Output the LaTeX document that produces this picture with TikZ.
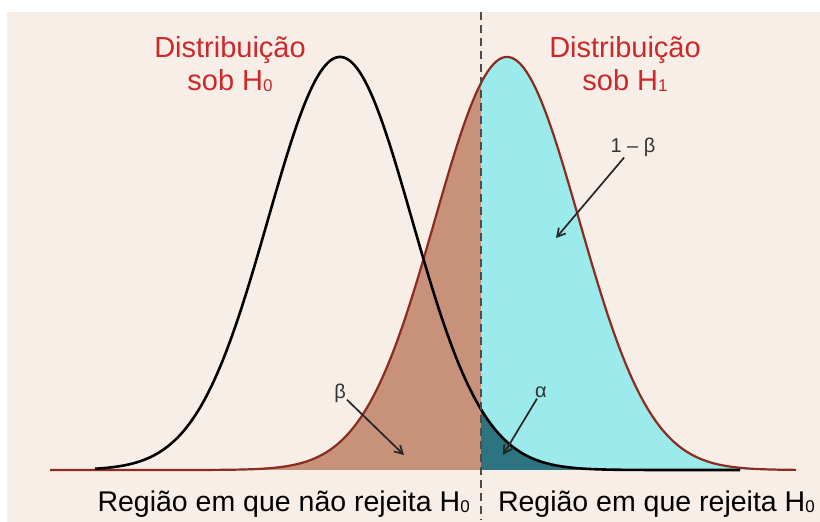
\documentclass[tikz,border=0pt]{standalone}
\usepackage{fontspec}
\setmainfont{Liberation Sans}
\usetikzlibrary{positioning, arrows.meta}
\definecolor{bg}{RGB}{248,238,232}
\definecolor{redtext}{RGB}{205,40,42}
\definecolor{hone}{RGB}{140,43,31}
\definecolor{betafill}{RGB}{200,146,122}
\definecolor{powerfill}{RGB}{155,234,236}
\definecolor{alphafill}{RGB}{46,116,128}
\tikzstyle{title}=[text=redtext, align=center, font=\fontsize{29}{33}\selectfont]
\tikzstyle{region}=[text=black, font=\fontsize{28.5}{33}\selectfont, inner sep=0pt]
\tikzstyle{greek}=[text=black!80, font=\fontsize{20}{22}\selectfont, inner sep=1pt]
\tikzstyle{pointer}=[-{Straight Barb[length=8pt,width=9pt]}, line width=1.7pt, black!85]
\newcommand{\hsub}[1]{\raisebox{-1pt}{\fontsize{17}{17}\selectfont #1}}

\begin{document}
\begin{tikzpicture}[x=1pt, y=1pt,
    declare function={hnull(\t)=52+413*exp(-((\t-340)/72)^2/2);
                      hone(\t)=52+413*exp(-((\t-507)/72)^2/2);}]
    \useasboundingbox (0,0) rectangle (820,522);
    \fill[bg] (7,0) rectangle (820,510);
    %areas beta, 1-beta and alpha
    \fill[betafill] (50,52) -- plot[domain=50:481, samples=150] (\x,{hone(\x)}) -- (481,52) -- cycle;
    \fill[powerfill] (481,52) -- plot[domain=481:796, samples=150] (\x,{hone(\x)}) -- (796,52) -- cycle;
    \fill[alphafill] (481,52) -- plot[domain=481:740, samples=120] (\x,{hnull(\x)}) -- (740,52) -- cycle;
    %the two densities
    \draw[hone, line width=2.2pt] plot[domain=50:796, samples=250] (\x,{hone(\x)});
    \draw[black, line width=2.6pt] plot[domain=95:740, samples=250] (\x,{hnull(\x)});
    %critical value
    \coordinate (crittop) at (481,510);
    \coordinate (critbot) at (481,2);
    \draw[black!70, line width=2.6pt, dash pattern=on 8pt off 5pt] (crittop) -- (critbot);

    \node[title] (distnull) at (230,458) {Distribuição\\sob H\hsub{0}};
    \node[title] (distone) at (625,458) {Distribuição\\sob H\hsub{1}};
    \node[region, anchor=east] (accept) at (470,18) {Região em que não rejeita H\hsub{0}};
    \node[region, anchor=east] (reject) at (815,18) {Região em que rejeita H\hsub{0}};

    \node[greek] (beta) at (340,129) {β};
    \node[greek] (alpha) at (541,130) {α};
    \node[greek] (power) at (633,375) {1 – β};
    \coordinate (betatip) at (404,67);
    \coordinate (alphatip) at (503,67);
    \coordinate (powertip) at (556,284);
    \draw[pointer] (beta) -- (betatip);
    \draw[pointer] (alpha) -- (alphatip);
    \draw[pointer] (power) -- (powertip);
\end{tikzpicture}
\end{document}
